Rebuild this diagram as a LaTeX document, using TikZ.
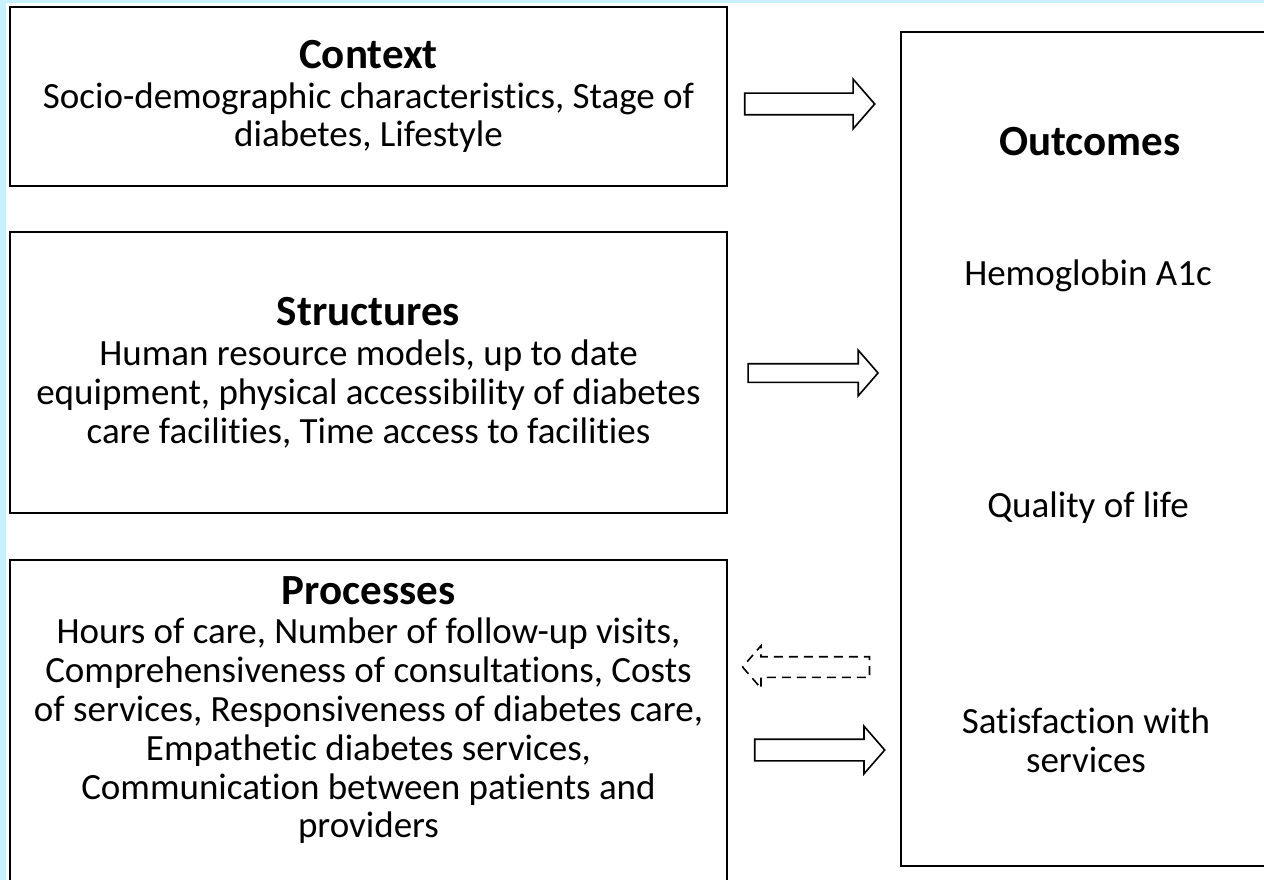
\documentclass[tikz,border=0pt]{standalone}
\usepackage{fontspec}
\setmainfont{Carlito}[RawFeature=-liga]
\usetikzlibrary{shapes.arrows}

\definecolor{edgeblue}{RGB}{200,240,255}
\newcommand{\boxhead}[1]{{\fontsize{43}{40}\selectfont\bfseries #1}}

\tikzset{
  box/.style={draw, line width=1.8pt, align=center, inner sep=0pt},
  bigarrow/.style={draw, line width=1.6pt, single arrow, inner xsep=0pt, inner ysep=10pt,
    minimum height=130pt, single arrow head extend=14pt, single arrow tip angle=98},
  txt/.style={align=center, inner sep=0pt}
}

\begin{document}
\begin{tikzpicture}[x=1pt, y=-1pt, font=\fontsize{37}{38.8}\selectfont]

  % Page size and the light blue edges
  \clip (0,0) rectangle (1264,880);
  \fill[white] (0,0) rectangle (1264,880);
  \fill[edgeblue] (0,0) rectangle (1264,3);
  \fill[edgeblue] (0,0) rectangle (6,880);

  % Left column boxes
  \node[box, minimum width=717pt, minimum height=179pt] (context) at (368.5,96.5)
    {\boxhead{Context}\\[1pt]Socio-demographic characteristics, Stage of\\diabetes, Lifestyle};
  \node[box, minimum width=717pt, minimum height=281pt] (structures) at (368.5,372.5)
    {\boxhead{Structures}\\[2pt]Human resource models, up to date\\equipment, physical accessibility of diabetes\\care facilities, Time access to facilities};
  \node[box, minimum width=717pt, minimum height=340pt] (procbox) at (368.5,730) {};
  \node[txt, anchor=north] (processes) at (368.5,576)
    {\boxhead{Processes}\\[1pt]Hours of care, Number of follow-up visits,\\Comprehensiveness of consultations, Costs\\of services, Responsiveness of diabetes care,\\Empathetic diabetes services,\\Communication between patients and\\providers};

  % Outcomes box on the right
  \node[box, minimum width=374pt, minimum height=834pt] (outcomes) at (1088,449) {};
  \node[txt] (outtitle) at (1090,142) {\boxhead{Outcomes}};
  \node[txt] (hba1c) at (1088,276) {Hemoglobin A1c};
  \node[txt] (qol) at (1088,508) {Quality of life};
  \node[txt] (satisf) at (1086,740) {Satisfaction with\\services};

  % Block arrows between the columns
  \node[bigarrow] (ctxarrow) at (805,104) {};
  \node[bigarrow, inner ysep=8.5pt, single arrow head extend=13.5pt] (strarrow) at (809,373) {};
  \node[bigarrow, dash pattern=on 9pt off 6pt, shape border rotate=180,
    minimum height=127pt, inner ysep=9.5pt, single arrow head extend=11pt] (fbarrow) at (810.5,667) {};
  \node[bigarrow, single arrow head extend=13pt] (procarrow) at (815,750) {};

\end{tikzpicture}
\end{document}
